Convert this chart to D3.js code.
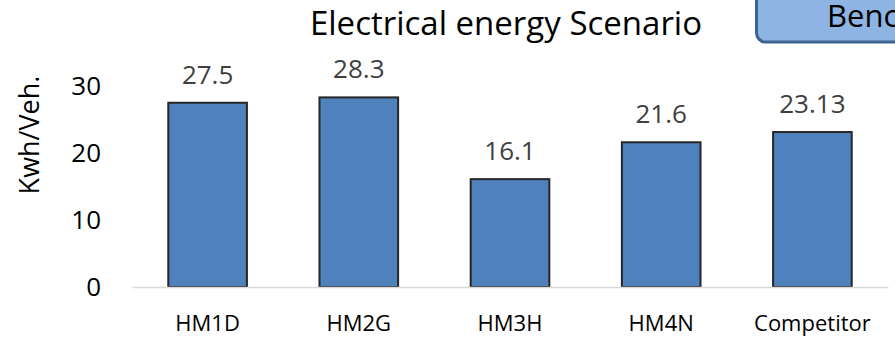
<!DOCTYPE html>
<html>
<head>
<meta charset="utf-8">
<script src="https://cdn.jsdelivr.net/npm/d3@7/dist/d3.min.js"></script>
<style>
  html, body { margin: 0; padding: 0; background: #fff; }
  svg { display: block; font-family: "Open Sans", "Noto Sans", sans-serif; }
</style>
</head>
<body>
<svg id="chart" width="895" height="339"></svg>
<script>
// Energy per vehicle for each scenario
const categories = ["HM1D", "HM2G", "HM3H", "HM4N", "Competitor"];
const values = [27.5, 28.3, 16.1, 21.6, 23.13];
const valueLabels = ["27.5", "28.3", "16.1", "21.6", "23.13"];
const yTicks = [0, 10, 20, 30];

const svg = d3.select("#chart");

const x = d3.scaleBand()
  .domain(categories)
  .range([132, 888])
  .paddingInner(0.48)
  .paddingOuter(0.24);

const y = d3.scaleLinear()
  .domain([0, 30])
  .range([287, 86]);

// Callout box in the top-right corner (runs off the canvas)
svg.append("rect")
  .attr("x", 756.5).attr("y", -20)
  .attr("width", 200).attr("height", 62)
  .attr("rx", 9).attr("ry", 9)
  .attr("fill", "#8eb4e3")
  .attr("stroke", "#3c6490")
  .attr("stroke-width", 3);
svg.append("text")
  .attr("x", 827).attr("y", 27)
  .attr("font-size", 31)
  .attr("fill", "#000")
  .text("Benchmark");

// Title
svg.append("text")
  .attr("x", 506).attr("y", 35)
  .attr("text-anchor", "middle")
  .attr("font-size", 33)
  .attr("fill", "#000")
  .text("Electrical energy Scenario");

// Y axis title
svg.append("text")
  .attr("transform", "translate(39,135) rotate(-90)")
  .attr("text-anchor", "middle")
  .attr("font-size", 27)
  .attr("fill", "#000")
  .text("Kwh/Veh.");

// Y tick labels (no axis line)
const yAxis = d3.axisLeft(y).tickValues(yTicks).tickSize(0).tickPadding(0);
const gy = svg.append("g").attr("transform", "translate(101,0)").call(yAxis);
gy.select(".domain").remove();
gy.selectAll("text")
  .attr("font-family", "'Open Sans', 'Noto Sans', sans-serif")
  .attr("font-size", 26)
  .attr("fill", "#000");

// Bars
svg.append("g").selectAll("rect")
  .data(values)
  .join("rect")
  .attr("x", (d, i) => x(categories[i]))
  .attr("y", d => y(d))
  .attr("width", x.bandwidth())
  .attr("height", d => y(0) - y(d))
  .attr("fill", "#4f81bd")
  .attr("stroke", "#262626")
  .attr("stroke-width", 2);

// X axis baseline and category labels
const xAxis = d3.axisBottom(x).tickSize(0).tickPadding(0);
const gx = svg.append("g").attr("transform", `translate(0,${y(0)})`).call(xAxis);
gx.select(".domain").attr("stroke", "#d9d9d9").attr("stroke-width", 1.5);
gx.selectAll("text")
  .attr("font-family", "'Open Sans', 'Noto Sans', sans-serif")
  .attr("font-size", 22)
  .attr("fill", "#000")
  .attr("dy", null)
  .attr("y", 44);

// Value labels above bars
svg.append("g").selectAll("text")
  .data(values)
  .join("text")
  .attr("x", (d, i) => x(categories[i]) + x.bandwidth() / 2)
  .attr("y", d => y(d) - 19)
  .attr("text-anchor", "middle")
  .attr("font-size", 26)
  .attr("fill", "#404040")
  .text((d, i) => valueLabels[i]);
</script>
</body>
</html>
